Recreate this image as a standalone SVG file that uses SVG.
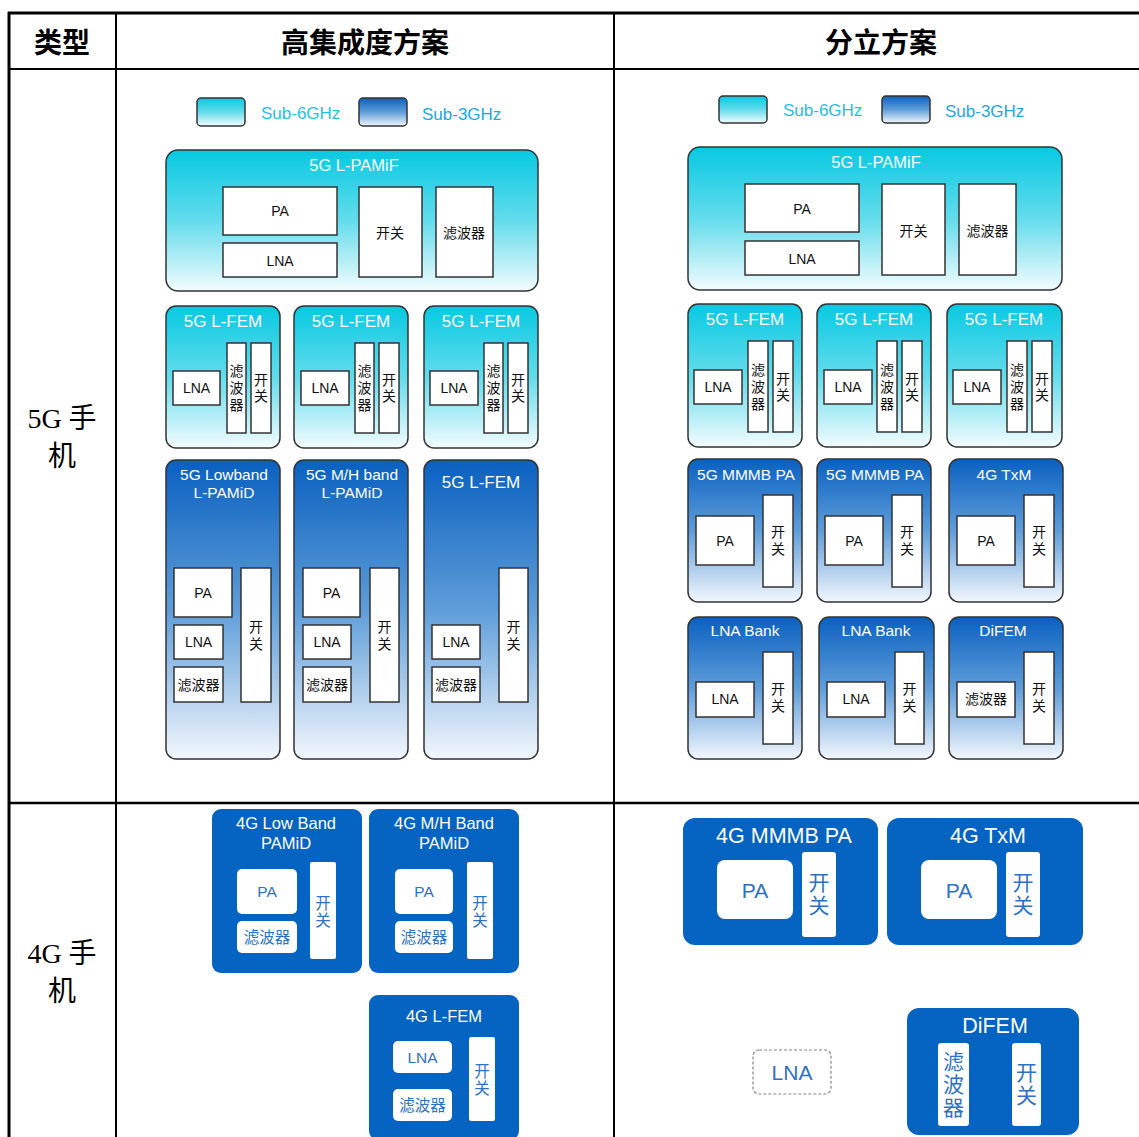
<svg xmlns="http://www.w3.org/2000/svg" width="1139" height="1137" viewBox="0 0 1139 1137">
<defs>
<linearGradient id="gCyan" x1="0" y1="0" x2="0" y2="1">
<stop offset="0" stop-color="#07c9e2"/>
<stop offset="0.5" stop-color="#63dcec"/>
<stop offset="1" stop-color="#f3fcfe"/>
</linearGradient>
<linearGradient id="gBlue" x1="0" y1="0" x2="0" y2="1">
<stop offset="0" stop-color="#0a60c0"/>
<stop offset="0.5" stop-color="#5e9dd9"/>
<stop offset="1" stop-color="#f3f7fd"/>
</linearGradient>
<style>
.tl{stroke:#000;fill:none}
.hd{font-family:"Noto Sans CJK SC",sans-serif;font-weight:bold;font-size:28px;fill:#000;text-anchor:middle;dominant-baseline:central}
.rl{font-family:"Liberation Serif","Noto Sans CJK SC",serif;font-size:28px;fill:#000;text-anchor:middle;dominant-baseline:central}
.lg{font-family:"Liberation Sans",sans-serif;font-size:17px;dominant-baseline:central}
.lbox{stroke:#333;stroke-width:1.5}
.mod{stroke:#333;stroke-width:1.5}
.in{fill:#fff;stroke:#333;stroke-width:1.5}
.mt{font-family:"Liberation Sans","Noto Sans CJK SC",sans-serif;font-size:15.5px;fill:#fff;text-anchor:middle;dominant-baseline:central}
.mt2{font-family:"Liberation Sans","Noto Sans CJK SC",sans-serif;font-size:17px;fill:#fff;text-anchor:middle;dominant-baseline:central}
.mt3{font-family:"Liberation Sans","Noto Sans CJK SC",sans-serif;font-size:16.5px;fill:#fff;text-anchor:middle;dominant-baseline:central}
.it{font-family:"Liberation Sans","Noto Sans CJK SC",sans-serif;font-size:14px;fill:#111;text-anchor:middle;dominant-baseline:central}
.vt{font-family:"Noto Sans CJK SC",sans-serif;font-size:14px;fill:#111;text-anchor:middle;writing-mode:vertical-rl}
.b4{fill:#0563c1}
.w4{fill:#fff}
.t4{font-family:"Liberation Sans",sans-serif;font-size:16.5px;fill:#fff;text-anchor:middle;dominant-baseline:central}
.i4{font-family:"Liberation Sans","Noto Sans CJK SC",sans-serif;font-size:15.5px;fill:#2f72c4;text-anchor:middle;dominant-baseline:central}
.v4{font-family:"Noto Sans CJK SC",sans-serif;font-size:15.5px;fill:#2f72c4;text-anchor:middle;writing-mode:vertical-rl;letter-spacing:1.5px}
.T4{font-family:"Liberation Sans",sans-serif;font-size:21.5px;fill:#fff;text-anchor:middle;dominant-baseline:central}
.I4{font-family:"Liberation Sans","Noto Sans CJK SC",sans-serif;font-size:21px;fill:#2f72c4;text-anchor:middle;dominant-baseline:central}
.V4{font-family:"Noto Sans CJK SC",sans-serif;font-size:21px;fill:#2f72c4;text-anchor:middle;writing-mode:vertical-rl;letter-spacing:2px}
</style>
</defs>
<rect x="0" y="0" width="1139" height="1137" fill="#fff"/>

<g id="table">
<line class="tl" x1="8" y1="13" x2="1139" y2="13" stroke-width="3"/>
<line class="tl" x1="9" y1="12" x2="9" y2="1137" stroke-width="3"/>
<line class="tl" x1="116" y1="13" x2="116" y2="1137" stroke-width="2"/>
<line class="tl" x1="614" y1="13" x2="614" y2="1137" stroke-width="2"/>
<line class="tl" x1="9" y1="69" x2="1139" y2="69" stroke-width="2"/>
<line class="tl" x1="9" y1="803" x2="1139" y2="803" stroke-width="2.5"/>
<text class="hd" x="62" y="41">类型</text>
<text class="hd" x="365" y="41">高集成度方案</text>
<text class="hd" x="881" y="41">分立方案</text>
<text class="rl" x="62" y="418">5G 手</text>
<text class="rl" x="62" y="456">机</text>
<text class="rl" x="62" y="953">4G 手</text>
<text class="rl" x="62" y="991">机</text>
</g>

<g id="legend-left">
<rect class="lbox" x="197" y="98" width="48" height="28" rx="4" fill="url(#gCyan)"/>
<text class="lg" x="261" y="113" fill="#1fbfe6">Sub-6GHz</text>
<rect class="lbox" x="359" y="98" width="48" height="28" rx="4" fill="url(#gBlue)"/>
<text class="lg" x="422" y="114" fill="#1da8e0">Sub-3GHz</text>
</g>
<g id="legend-right">
<rect class="lbox" x="719" y="96" width="48" height="27" rx="4" fill="url(#gCyan)"/>
<text class="lg" x="783" y="110" fill="#1fbfe6">Sub-6GHz</text>
<rect class="lbox" x="882" y="96" width="48" height="27" rx="4" fill="url(#gBlue)"/>
<text class="lg" x="945" y="111" fill="#1da8e0">Sub-3GHz</text>
</g>

<g id="L-PAMiF-left">
<rect class="mod" x="166" y="150" width="372" height="141" rx="12" fill="url(#gCyan)"/>
<text class="mt3" x="354" y="165">5G L-PAMiF</text>
<rect class="in" x="223" y="187" width="114" height="48"/><text class="it" x="280" y="211">PA</text>
<rect class="in" x="223" y="243" width="114" height="34"/><text class="it" x="280" y="261">LNA</text>
<rect class="in" x="359" y="187" width="63" height="90"/><text class="it" x="390" y="233">开关</text>
<rect class="in" x="436" y="187" width="57" height="90"/><text class="it" x="464" y="233">滤波器</text>
</g>

<g id="L-FEM-left-1">
<rect class="mod" x="166" y="306" width="114" height="142" rx="10" fill="url(#gCyan)"/>
<text class="mt2" x="223" y="321">5G L-FEM</text>
<rect class="in" x="173" y="371" width="47" height="34"/><text class="it" x="196.5" y="388">LNA</text>
<rect class="in" x="227" y="343" width="19" height="90"/>
<text class="vt" x="236.5" y="389" letter-spacing="3">滤波器</text>
<rect class="in" x="251" y="343" width="20" height="90"/>
<text class="vt" x="261" y="389" letter-spacing="2">开关</text>
</g>
<g id="L-FEM-left-2">
<rect class="mod" x="294" y="306" width="114" height="142" rx="10" fill="url(#gCyan)"/>
<text class="mt2" x="351" y="321">5G L-FEM</text>
<rect class="in" x="301" y="371" width="48" height="34"/><text class="it" x="325" y="388">LNA</text>
<rect class="in" x="355" y="343" width="19" height="90"/>
<text class="vt" x="364.5" y="389" letter-spacing="3">滤波器</text>
<rect class="in" x="379" y="343" width="20" height="90"/>
<text class="vt" x="389" y="389" letter-spacing="2">开关</text>
</g>
<g id="L-FEM-left-3">
<rect class="mod" x="424" y="306" width="114" height="142" rx="10" fill="url(#gCyan)"/>
<text class="mt2" x="481" y="321">5G L-FEM</text>
<rect class="in" x="430" y="371" width="48" height="34"/><text class="it" x="454" y="388">LNA</text>
<rect class="in" x="484" y="343" width="19" height="90"/>
<text class="vt" x="493.5" y="389" letter-spacing="3">滤波器</text>
<rect class="in" x="508" y="343" width="20" height="90"/>
<text class="vt" x="518" y="389" letter-spacing="2">开关</text>
</g>

<g id="Lowband-L-PAMiD">
<rect class="mod" x="166" y="460" width="114" height="299" rx="10" fill="url(#gBlue)"/>
<text class="mt" x="224" y="474">5G Lowband</text>
<text class="mt" x="224" y="492">L-PAMiD</text>
<rect class="in" x="174" y="568" width="58" height="49"/><text class="it" x="203" y="593">PA</text>
<rect class="in" x="174" y="625" width="49" height="34"/><text class="it" x="198.5" y="642">LNA</text>
<rect class="in" x="174" y="667" width="49" height="35"/><text class="it" x="198.5" y="685">滤波器</text>
<rect class="in" x="241" y="568" width="30" height="134"/>
<text class="vt" x="256" y="637" letter-spacing="3">开关</text>
</g>
<g id="MH-L-PAMiD">
<rect class="mod" x="294" y="460" width="114" height="299" rx="10" fill="url(#gBlue)"/>
<text class="mt" x="352" y="474">5G M/H band</text>
<text class="mt" x="352" y="492">L-PAMiD</text>
<rect class="in" x="303" y="568" width="57" height="49"/><text class="it" x="331.5" y="593">PA</text>
<rect class="in" x="303" y="625" width="48" height="34"/><text class="it" x="327" y="642">LNA</text>
<rect class="in" x="303" y="667" width="48" height="35"/><text class="it" x="327" y="685">滤波器</text>
<rect class="in" x="370" y="568" width="29" height="134"/>
<text class="vt" x="384.5" y="637" letter-spacing="3">开关</text>
</g>
<g id="L-FEM-left-4">
<rect class="mod" x="424" y="460" width="114" height="299" rx="10" fill="url(#gBlue)"/>
<text class="mt2" x="481" y="482">5G L-FEM</text>
<rect class="in" x="432" y="625" width="48" height="34"/><text class="it" x="456" y="642">LNA</text>
<rect class="in" x="432" y="667" width="48" height="35"/><text class="it" x="456" y="685">滤波器</text>
<rect class="in" x="499" y="568" width="29" height="134"/>
<text class="vt" x="513.5" y="637" letter-spacing="3">开关</text>
</g>

<g id="L-PAMiF-right">
<rect class="mod" x="688" y="147" width="374" height="143" rx="12" fill="url(#gCyan)"/>
<text class="mt3" x="876" y="162">5G L-PAMiF</text>
<rect class="in" x="745" y="184" width="114" height="48"/><text class="it" x="802" y="209">PA</text>
<rect class="in" x="745" y="241" width="114" height="34"/><text class="it" x="802" y="259">LNA</text>
<rect class="in" x="882" y="184" width="63" height="91"/><text class="it" x="913.5" y="231">开关</text>
<rect class="in" x="959" y="184" width="57" height="91"/><text class="it" x="987.5" y="231">滤波器</text>
</g>

<g id="L-FEM-right-1">
<rect class="mod" x="688" y="304" width="114" height="143" rx="10" fill="url(#gCyan)"/>
<text class="mt2" x="745" y="319">5G L-FEM</text>
<rect class="in" x="694" y="370" width="48" height="34"/><text class="it" x="718" y="387">LNA</text>
<rect class="in" x="748" y="341" width="20" height="91"/>
<text class="vt" x="758" y="388" letter-spacing="3">滤波器</text>
<rect class="in" x="773" y="341" width="20" height="91"/>
<text class="vt" x="783" y="388" letter-spacing="2">开关</text>
</g>
<g id="L-FEM-right-2">
<rect class="mod" x="817" y="304" width="114" height="143" rx="10" fill="url(#gCyan)"/>
<text class="mt2" x="874" y="319">5G L-FEM</text>
<rect class="in" x="824" y="370" width="48" height="34"/><text class="it" x="848" y="387">LNA</text>
<rect class="in" x="877" y="341" width="20" height="91"/>
<text class="vt" x="887" y="388" letter-spacing="3">滤波器</text>
<rect class="in" x="902" y="341" width="20" height="91"/>
<text class="vt" x="912" y="388" letter-spacing="2">开关</text>
</g>
<g id="L-FEM-right-3">
<rect class="mod" x="947" y="304" width="115" height="143" rx="10" fill="url(#gCyan)"/>
<text class="mt2" x="1004" y="319">5G L-FEM</text>
<rect class="in" x="953" y="370" width="48" height="34"/><text class="it" x="977" y="387">LNA</text>
<rect class="in" x="1007" y="341" width="20" height="91"/>
<text class="vt" x="1017" y="388" letter-spacing="3">滤波器</text>
<rect class="in" x="1032" y="341" width="20" height="91"/>
<text class="vt" x="1042" y="388" letter-spacing="2">开关</text>
</g>

<g id="MMMB-PA-1">
<rect class="mod" x="688" y="459" width="114" height="143" rx="10" fill="url(#gBlue)"/>
<text class="mt" x="746" y="474">5G MMMB PA</text>
<rect class="in" x="696" y="516" width="58" height="49"/><text class="it" x="725" y="541">PA</text>
<rect class="in" x="763" y="495" width="30" height="92"/>
<text class="vt" x="778" y="542" letter-spacing="3">开关</text>
</g>
<g id="MMMB-PA-2">
<rect class="mod" x="817" y="459" width="114" height="143" rx="10" fill="url(#gBlue)"/>
<text class="mt" x="875" y="474">5G MMMB PA</text>
<rect class="in" x="825" y="516" width="58" height="49"/><text class="it" x="854" y="541">PA</text>
<rect class="in" x="892" y="495" width="30" height="92"/>
<text class="vt" x="907" y="542" letter-spacing="3">开关</text>
</g>
<g id="TxM-5G">
<rect class="mod" x="949" y="459" width="114" height="143" rx="10" fill="url(#gBlue)"/>
<text class="mt" x="1004" y="474">4G TxM</text>
<rect class="in" x="957" y="516" width="58" height="49"/><text class="it" x="986" y="541">PA</text>
<rect class="in" x="1024" y="495" width="30" height="92"/>
<text class="vt" x="1039" y="542" letter-spacing="3">开关</text>
</g>

<g id="LNA-Bank-1">
<rect class="mod" x="688" y="617" width="114" height="142" rx="10" fill="url(#gBlue)"/>
<text class="mt" x="745" y="630">LNA Bank</text>
<rect class="in" x="696" y="682" width="58" height="35"/><text class="it" x="725" y="699">LNA</text>
<rect class="in" x="763" y="652" width="30" height="92"/>
<text class="vt" x="778" y="699" letter-spacing="3">开关</text>
</g>
<g id="LNA-Bank-2">
<rect class="mod" x="819" y="617" width="115" height="142" rx="10" fill="url(#gBlue)"/>
<text class="mt" x="876" y="630">LNA Bank</text>
<rect class="in" x="827" y="682" width="58" height="35"/><text class="it" x="856" y="699">LNA</text>
<rect class="in" x="895" y="652" width="29" height="92"/>
<text class="vt" x="909.5" y="699" letter-spacing="3">开关</text>
</g>
<g id="DiFEM-5G">
<rect class="mod" x="949" y="617" width="114" height="142" rx="10" fill="url(#gBlue)"/>
<text class="mt" x="1003" y="630">DiFEM</text>
<rect class="in" x="957" y="682" width="58" height="35"/><text class="it" x="986" y="699">滤波器</text>
<rect class="in" x="1024" y="652" width="30" height="92"/>
<text class="vt" x="1039" y="699" letter-spacing="3">开关</text>
</g>

<g id="4G-LowBand-PAMiD">
<rect class="b4" x="212" y="809" width="150" height="164" rx="9"/>
<text class="t4" x="286" y="823">4G Low Band</text>
<text class="t4" x="286" y="843">PAMiD</text>
<rect class="w4" x="237" y="869" width="60" height="45" rx="5"/><text class="i4" x="267" y="891">PA</text>
<rect class="w4" x="237" y="921" width="60" height="32" rx="5"/><text class="i4" x="267" y="937">滤波器</text>
<rect class="w4" x="310" y="862" width="26" height="97" rx="2"/>
<text class="v4" x="323" y="912">开关</text>
</g>
<g id="4G-MH-Band-PAMiD">
<rect class="b4" x="369" y="809" width="150" height="164" rx="9"/>
<text class="t4" x="444" y="823">4G M/H Band</text>
<text class="t4" x="444" y="843">PAMiD</text>
<rect class="w4" x="395" y="869" width="58" height="45" rx="5"/><text class="i4" x="424" y="891">PA</text>
<rect class="w4" x="395" y="921" width="58" height="32" rx="5"/><text class="i4" x="424" y="937">滤波器</text>
<rect class="w4" x="467" y="862" width="26" height="97" rx="2"/>
<text class="v4" x="480" y="912">开关</text>
</g>
<g id="4G-L-FEM">
<rect class="b4" x="369" y="995" width="150" height="145" rx="9"/>
<text class="t4" x="444" y="1016">4G L-FEM</text>
<rect class="w4" x="393" y="1041" width="59" height="32" rx="5"/><text class="i4" x="422.5" y="1057">LNA</text>
<rect class="w4" x="393" y="1089" width="59" height="32" rx="5"/><text class="i4" x="422.5" y="1105">滤波器</text>
<rect class="w4" x="469" y="1037" width="26" height="84" rx="2"/>
<text class="v4" x="482" y="1080">开关</text>
</g>

<g id="4G-MMMB-PA">
<rect class="b4" x="683" y="818" width="195" height="127" rx="12"/>
<text class="T4" x="784" y="836">4G MMMB PA</text>
<rect class="w4" x="717" y="860" width="76" height="59" rx="8"/><text class="I4" x="755" y="890">PA</text>
<rect class="w4" x="802" y="852" width="34" height="85" rx="3"/>
<text class="V4" x="819" y="895">开关</text>
</g>
<g id="4G-TxM">
<rect class="b4" x="887" y="818" width="196" height="127" rx="12"/>
<text class="T4" x="988" y="836">4G TxM</text>
<rect class="w4" x="921" y="860" width="76" height="59" rx="8"/><text class="I4" x="959" y="890">PA</text>
<rect class="w4" x="1006" y="852" width="34" height="85" rx="3"/>
<text class="V4" x="1023" y="895">开关</text>
</g>
<g id="LNA-discrete">
<rect x="753" y="1050" width="78" height="44" rx="6" fill="#fff" stroke="#888" stroke-width="1.2" stroke-dasharray="3,2"/>
<text class="I4" x="792" y="1072">LNA</text>
</g>
<g id="4G-DiFEM">
<rect class="b4" x="907" y="1008" width="172" height="127" rx="12"/>
<text class="T4" x="995" y="1026">DiFEM</text>
<rect class="w4" x="938" y="1043" width="31" height="83" rx="3"/>
<text class="V4" x="953.5" y="1085">滤波器</text>
<rect class="w4" x="1012" y="1043" width="29" height="83" rx="3"/>
<text class="V4" x="1026.5" y="1085">开关</text>
</g>
</svg>
